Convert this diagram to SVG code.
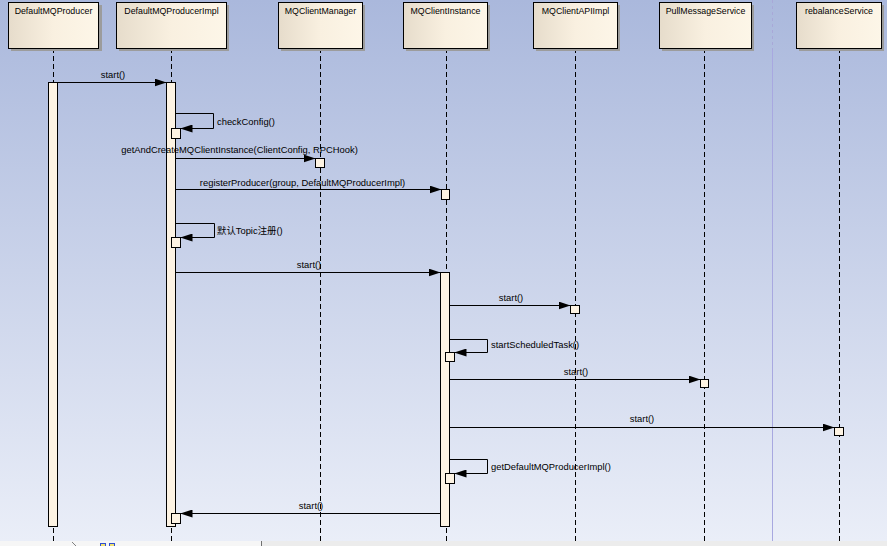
<svg xmlns="http://www.w3.org/2000/svg" width="887" height="546" viewBox="0 0 887 546">
<defs>
<linearGradient id="bg" x1="0" y1="0" x2="0" y2="1">
<stop offset="0" stop-color="#aab8dc"/>
<stop offset="1" stop-color="#eaeef8"/>
</linearGradient>
<linearGradient id="hdr" x1="0" y1="0" x2="1" y2="0">
<stop offset="0" stop-color="#e6dccb"/>
<stop offset="0.5" stop-color="#f9f0e0"/>
<stop offset="1" stop-color="#fdf6e8"/>
</linearGradient>
<marker id="ah" viewBox="0 0 12 8" refX="12" refY="4" markerWidth="12" markerHeight="8" markerUnits="userSpaceOnUse" orient="auto">
<path d="M0,0 L12,4 L0,8 z" fill="#000"/>
</marker>
<style>
.box{fill:url(#hdr);stroke:#000;stroke-width:1}
.shadow{fill:#9c9c9c}
.hname{font-family:"Liberation Sans",Arial,sans-serif;font-size:8.8px;fill:#000;text-anchor:middle}
.life{stroke:#000;stroke-width:1;stroke-dasharray:5,3;fill:none}
.bar{fill:#fdf3e3;stroke:#000;stroke-width:1}
.msg{stroke:#000;stroke-width:1;fill:none;marker-end:url(#ah)}
.lbl{font-family:"Liberation Sans","Noto Sans CJK SC",Arial,sans-serif;font-size:9.4px;fill:#000}
.mid{text-anchor:middle}
</style>
</defs>
<rect x="0" y="0" width="887" height="541" fill="url(#bg)"/>
<line x1="772.5" y1="0" x2="772.5" y2="50" stroke="#a8a8d8" stroke-dasharray="3,3"/>
<line x1="772.5" y1="50" x2="772.5" y2="541" stroke="#a8a8e0"/>
<g id="footer">
<rect x="0" y="541" width="887" height="5" fill="#f6f6f6"/>
<rect x="261" y="541" width="626" height="5" fill="#ececec"/>
<line x1="261.5" y1="541" x2="261.5" y2="546" stroke="#707070"/>
<rect x="100.5" y="543.5" width="5" height="3" fill="#f0e070" stroke="#3050d0"/>
<rect x="109.5" y="543.5" width="5" height="3" fill="#f0e070" stroke="#3050d0"/>
<line x1="72" y1="542" x2="76" y2="546" stroke="#808080"/>
</g>
<g id="lifelines">
<line class="life" x1="53.5" y1="48" x2="53.5" y2="541"/>
<line class="life" x1="171.5" y1="48" x2="171.5" y2="541"/>
<line class="life" x1="320.5" y1="48" x2="320.5" y2="541"/>
<line class="life" x1="446.5" y1="48" x2="446.5" y2="541"/>
<line class="life" x1="575.5" y1="48" x2="575.5" y2="541"/>
<line class="life" x1="704.5" y1="48" x2="704.5" y2="541"/>
<line class="life" x1="839.5" y1="48" x2="839.5" y2="541"/>
</g>
<g id="n1"><rect class="shadow" x="11" y="5" width="91" height="46"/><rect class="box" x="8.5" y="2.5" width="90" height="46"/><text class="hname" x="53.5" y="14">DefaultMQProducer</text></g>
<g id="n2"><rect class="shadow" x="119" y="5" width="110" height="46"/><rect class="box" x="116.5" y="2.5" width="110" height="46"/><text class="hname" x="171.5" y="14">DefaultMQProducerImpl</text></g>
<g id="n3"><rect class="shadow" x="281" y="5" width="84" height="46"/><rect class="box" x="278.5" y="2.5" width="84" height="46"/><text class="hname" x="320.5" y="14">MQClientManager</text></g>
<g id="n4"><rect class="shadow" x="406" y="5" width="84" height="46"/><rect class="box" x="403.5" y="2.5" width="84" height="46"/><text class="hname" x="445.5" y="14">MQClientInstance</text></g>
<g id="n5"><rect class="shadow" x="536" y="5" width="84" height="46"/><rect class="box" x="533.5" y="2.5" width="84" height="46"/><text class="hname" x="575.5" y="14">MQClientAPIImpl</text></g>
<g id="n6"><rect class="shadow" x="662" y="5" width="92" height="46"/><rect class="box" x="659.5" y="2.5" width="92" height="46"/><text class="hname" x="705.5" y="14">PullMessageService</text></g>
<g id="n7"><rect class="shadow" x="799" y="5" width="85" height="46"/><rect class="box" x="796.5" y="2.5" width="85" height="46"/><text class="hname" x="839" y="14">rebalanceService</text></g>
<g id="activations">
<rect class="bar" x="48.5" y="82.5" width="9" height="444"/>
<rect class="bar" x="166.5" y="82.5" width="9" height="444"/>
<rect class="bar" x="440.5" y="272.5" width="9" height="254"/>
<rect class="bar" x="171.5" y="128.5" width="9" height="10"/>
<rect class="bar" x="315.5" y="158.5" width="9" height="9"/>
<rect class="bar" x="441.5" y="189.5" width="8" height="10"/>
<rect class="bar" x="171.5" y="237.5" width="9" height="10"/>
<rect class="bar" x="570.5" y="305.5" width="9" height="8"/>
<rect class="bar" x="445.5" y="352.5" width="9" height="9"/>
<rect class="bar" x="700.5" y="379.5" width="8" height="8"/>
<rect class="bar" x="834.5" y="427.5" width="9" height="8"/>
<rect class="bar" x="445.5" y="473.5" width="9" height="10"/>
<rect class="bar" x="171.5" y="513.5" width="9" height="10"/>
</g>
<g id="connectors">
<path class="msg" d="M57.5,82.5 H166.5"/>
<path class="msg" d="M175.5,113.5 H213.5 V128.5 H180.5"/>
<path class="msg" d="M175.5,158.5 H315.5"/>
<path class="msg" d="M175.5,189.5 H441.5"/>
<path class="msg" d="M175.5,223.5 H214.5 V237.5 H180.5"/>
<path class="msg" d="M175.5,272.5 H440.5"/>
<path class="msg" d="M449.5,305.5 H570.5"/>
<path class="msg" d="M449.5,339.5 H487.5 V352.5 H454.5"/>
<path class="msg" d="M449.5,379.5 H700.5"/>
<path class="msg" d="M449.5,427.5 H834.5"/>
<path class="msg" d="M449.5,459.5 H487.5 V473.5 H454.5"/>
<path class="msg" d="M440.5,513.5 H180.5"/>
</g>
<g id="labels">
<text class="lbl mid" x="113" y="78">start()</text>
<text class="lbl" x="217" y="125">checkConfig()</text>
<text class="lbl mid" x="239.5" y="153">getAndCreateMQClientInstance(ClientConfig, RPCHook)</text>
<text class="lbl mid" x="302.5" y="186">registerProducer(group, DefaultMQProducerImpl)</text>
<text class="lbl" x="217" y="234">默认Topic注册()</text>
<text class="lbl mid" x="309" y="268">start()</text>
<text class="lbl mid" x="511" y="301">start()</text>
<text class="lbl" x="491" y="348">startScheduledTask()</text>
<text class="lbl mid" x="576" y="375">start()</text>
<text class="lbl mid" x="642" y="422">start()</text>
<text class="lbl" x="491" y="470">getDefaultMQProducerImpl()</text>
<text class="lbl mid" x="311" y="509">start()</text>
</g>
</svg>
